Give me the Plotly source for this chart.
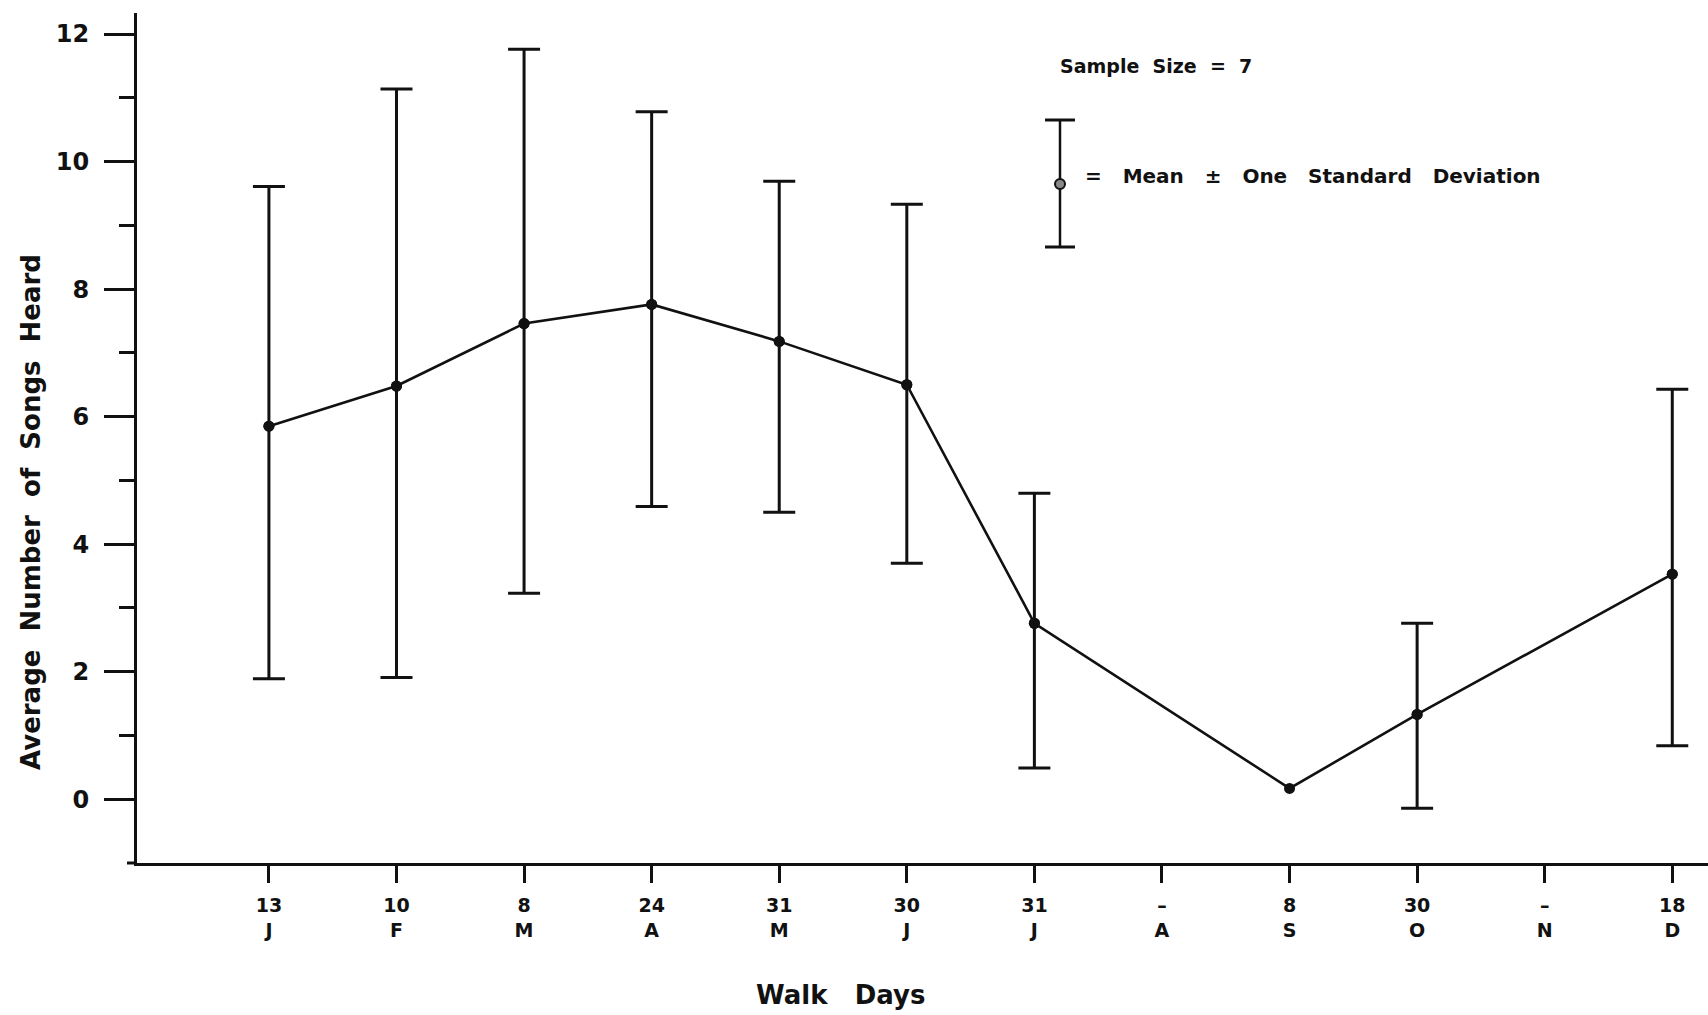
import plotly.graph_objects as go

# ---- data ----
months = ["J", "F", "M", "A", "M", "J", "J", "A", "S", "O", "N", "D"]
days = ["13", "10", "8", "24", "31", "30", "31", "\u2013", "8", "30", "\u2013", "18"]
mean_songs = [5.85, 6.48, 7.46, 7.76, 7.18, 6.50, 2.76, None, 0.17, 1.33, None, 3.53]
upper_sd = [9.61, 11.14, 11.76, 10.78, 9.69, 9.33, 4.80, None, None, 2.76, None, 6.43]
lower_sd = [1.89, 1.91, 3.23, 4.59, 4.50, 3.70, 0.49, None, None, -0.14, None, 0.84]

x_idx = list(range(len(months)))
tick_text = [f"{d}<br>{m}" for d, m in zip(days, months)]

# points that carry a standard-deviation bar
sd_x, sd_mean, sd_plus, sd_minus = [], [], [], []
for i, (m, u, l) in enumerate(zip(mean_songs, upper_sd, lower_sd)):
    if m is not None and u is not None and l is not None:
        sd_x.append(i)
        sd_mean.append(m)
        sd_plus.append(u - m)
        sd_minus.append(m - l)

FONT = "DejaVu Sans, Liberation Sans, Arial"
INK = "#111111"
W, H = 1708, 1015
ML, MR, MT, MB = 137, 0, 13, 152

fig = go.Figure()
fig.add_trace(go.Scatter(
    x=x_idx, y=mean_songs,
    mode="lines+markers",
    connectgaps=True,
    line=dict(color=INK, width=2.6),
    marker=dict(color=INK, size=11),
    showlegend=False,
    hoverinfo="skip",
))
fig.add_trace(go.Scatter(
    x=sd_x, y=sd_mean,
    mode="markers",
    marker=dict(color=INK, size=11),
    error_y=dict(type="data", symmetric=False, array=sd_plus, arrayminus=sd_minus,
                 color=INK, thickness=3, width=16),
    showlegend=False,
    hoverinfo="skip",
))

pw = W - ML - MR
ph = H - MT - MB


def px(xp):
    return (xp - ML) / pw


def py(yp):
    return (H - MB - yp) / ph


# legend key (error bar glyph) drawn as layout shapes
kx = 1060
shapes = [
    dict(type="line", xref="paper", yref="paper", x0=px(kx), x1=px(kx), y0=py(120), y1=py(247),
         line=dict(color=INK, width=2.5)),
    dict(type="line", xref="paper", yref="paper", x0=px(kx - 15), x1=px(kx + 15), y0=py(120), y1=py(120),
         line=dict(color=INK, width=3)),
    dict(type="line", xref="paper", yref="paper", x0=px(kx - 15), x1=px(kx + 15), y0=py(247), y1=py(247),
         line=dict(color=INK, width=3)),
    dict(type="circle", xref="paper", yref="paper", x0=px(kx - 5), x1=px(kx + 5), y0=py(189), y1=py(179),
         line=dict(color=INK, width=2), fillcolor="#888888"),
    # small overhang of the x axis line to the left of the y axis
    dict(type="line", xref="paper", yref="paper", x0=px(127), x1=0, y0=0, y1=0,
         line=dict(color=INK, width=3)),
]

annotations = [
    dict(text="<b>Sample  Size  =  7</b>", xref="paper", yref="paper", x=px(1058), y=py(66),
         xanchor="left", yanchor="middle", showarrow=False,
         font=dict(family=FONT, size=19, color=INK)),
    dict(text="<b>=   Mean   \u00b1   One   Standard   Deviation</b>", xref="paper", yref="paper",
         x=px(1083), y=py(176), xanchor="left", yanchor="middle", showarrow=False,
         font=dict(family=FONT, size=20, color=INK)),
    dict(text="<b>Average  Number  of  Songs  Heard</b>", xref="paper", yref="paper",
         x=px(31), y=py(512), xanchor="center", yanchor="middle", textangle=-90, showarrow=False,
         font=dict(family=FONT, size=26, color=INK)),
    dict(text="<b>Walk   Days</b>", xref="paper", yref="paper",
         x=px(840), y=py(995), xanchor="center", yanchor="middle", showarrow=False,
         font=dict(family=FONT, size=26, color=INK)),
]

fig.update_layout(
    width=W, height=H,
    margin=dict(l=ML, r=MR, t=MT, b=MB, pad=0),
    paper_bgcolor="white", plot_bgcolor="white",
    font=dict(family=FONT, color=INK),
    shapes=shapes,
    annotations=annotations,
    xaxis=dict(
        range=[-1.034, 11.28],
        tickmode="array", tickvals=x_idx, ticktext=tick_text,
        ticks="outside", ticklen=17, tickwidth=2.5, tickcolor=INK,
        showline=True, linewidth=3, linecolor=INK,
        showgrid=False, zeroline=False,
        tickfont=dict(family=FONT, size=19, color=INK, weight="bold"),
        ticklabelstandoff=6,
    ),
    yaxis=dict(
        range=[-1.0, 12.33],
        tickmode="array", tickvals=[0, 2, 4, 6, 8, 10, 12],
        ticks="outside", ticklen=30, tickwidth=2.5, tickcolor=INK,
        minor=dict(tickmode="array", tickvals=[1, 3, 5, 7, 9, 11], ticks="outside",
                   ticklen=15, tickwidth=2.5, tickcolor=INK, showgrid=False),
        showline=True, linewidth=3, linecolor=INK,
        showgrid=False, zeroline=False,
        tickfont=dict(family=FONT, size=24, color=INK, weight="bold"),
        ticklabelstandoff=10,
    ),
)

fig.write_html("out.html")
